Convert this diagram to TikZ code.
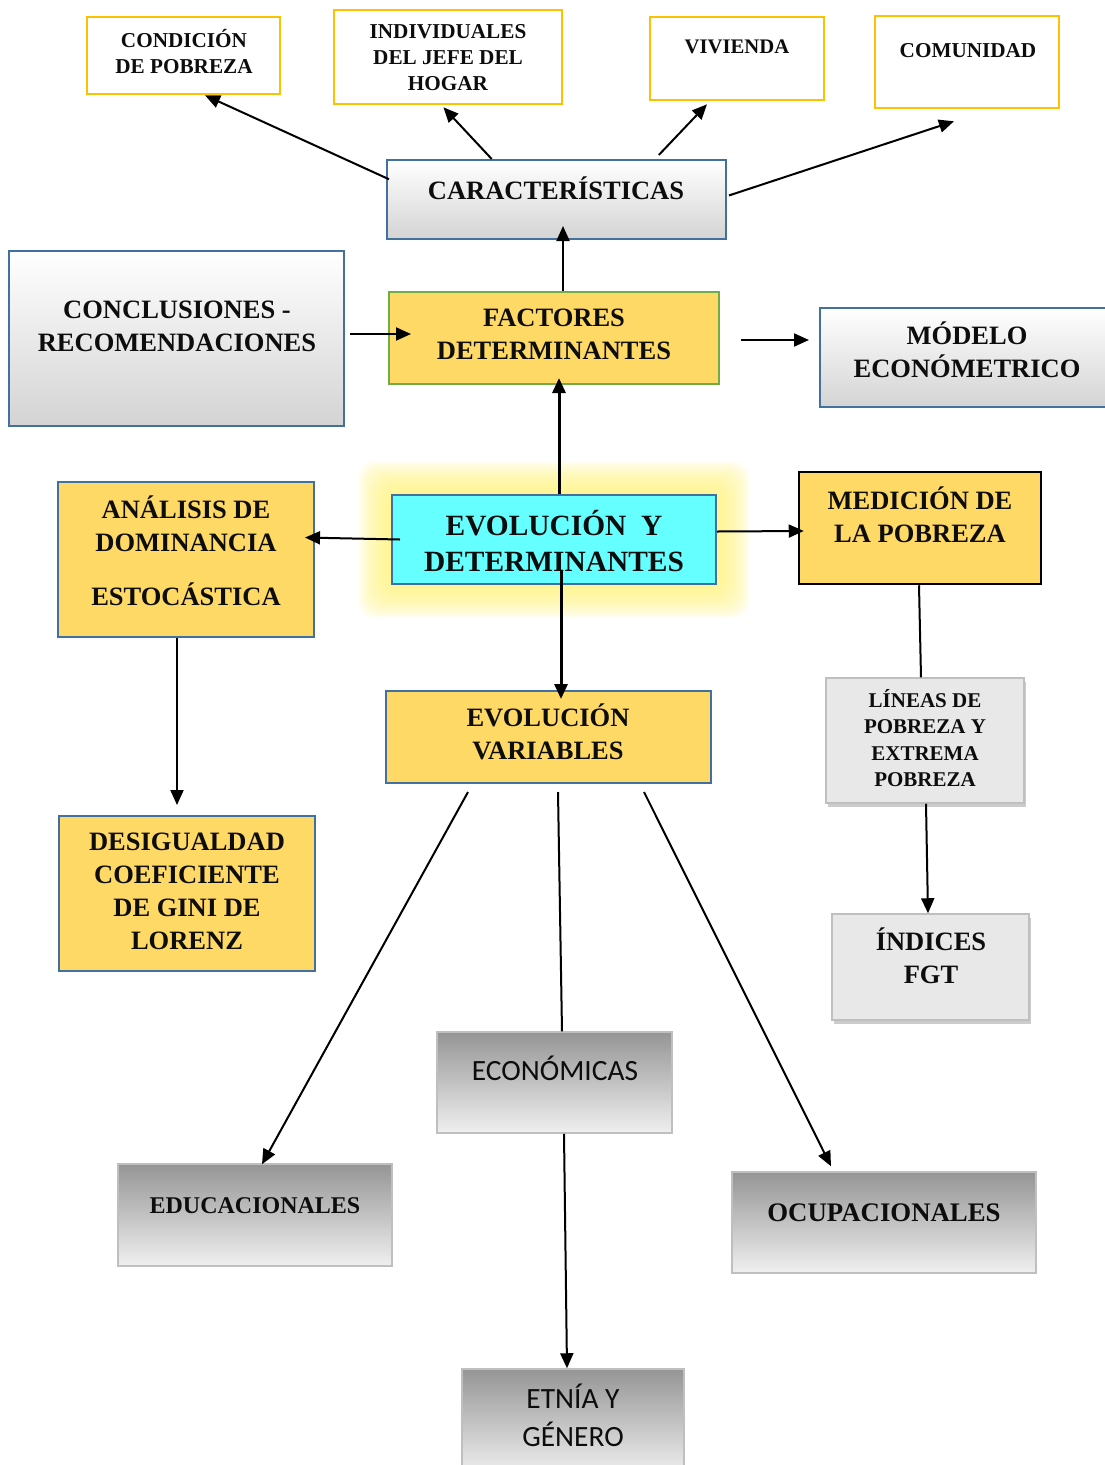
\documentclass[tikz,border=0pt]{standalone}
\usepackage{fontspec}
\setmainfont{Liberation Serif}
\newfontfamily\carlfont{Carlito}
\usetikzlibrary{arrows.meta,shadows,calc}
\definecolor{ybord}{HTML}{FFC000}
\definecolor{bbord}{HTML}{41719C}
\definecolor{gold}{HTML}{FFD966}
\definecolor{gbord}{HTML}{70AD47}
\definecolor{cyanf}{HTML}{66FFFF}
\definecolor{lgray}{HTML}{E8E8E8}
\definecolor{gbox}{HTML}{BFBFBF}
\definecolor{dgray}{HTML}{959595}
\definecolor{glow}{HTML}{FFF27A}
\tikzset{
  box/.style={rectangle, inner sep=0pt},
  ybox/.style={box, draw=ybord, line width=2.6pt, fill=white},
  wbox/.style={box, draw=bbord, line width=2pt, top color=white, middle color=white, bottom color=black!17},
  goldbox/.style={box, draw=bbord, line width=2pt, fill=gold},
  graybox/.style={box, draw=gbox, line width=1.5pt, fill=lgray, drop shadow={shadow xshift=2pt, shadow yshift=-4pt, opacity=0.4}},
  dbox/.style={box, draw=gbox, line width=1.5pt, top color=dgray, bottom color=black!6},
  txt/.style={align=center, inner sep=0pt, text=black!95},
  bf20/.style={txt, font=\bfseries\fontsize{21.2}{26}\selectfont},
  bf25/.style={txt, font=\bfseries\fontsize{26.5}{33}\selectfont},
  sans26/.style={txt, font=\carlfont\fontsize{29.4}{38}\selectfont},
  arr/.style={line width=2pt, -{Triangle[length=15pt,width=13pt]}},
  thickarr/.style={line width=3pt, -{Triangle[length=15pt,width=13pt]}},
  plain/.style={line width=2pt},
}
\begin{document}
\begin{tikzpicture}[x=1pt,y=-1pt]
\useasboundingbox (0,0) rectangle (1104,1465);
% glow behind central box
\foreach \i in {0,...,13}{
  \pgfmathsetmacro{\o}{34-2.5*\i}
  \fill[glow, opacity=0.11, rounded corners=18pt] (392-\o,495-\o) rectangle (716+\o,584+\o);
}
% boxes
\node[ybox, minimum width=193, minimum height=77] (cond) at (183.5,55.5) {};
\node[ybox, minimum width=228, minimum height=94] (indiv) at (448,57) {};
\node[ybox, minimum width=174, minimum height=83] (viv) at (737,58.5) {};
\node[ybox, minimum width=184, minimum height=92] (com) at (967,62) {};
\node[wbox, minimum width=339, minimum height=79] (car) at (556.5,199.5) {};
\node[wbox, minimum width=335, minimum height=175] (concl) at (176.5,338.5) {};
\node[box, draw=gbord, line width=2pt, fill=gold, minimum width=330, minimum height=92] (fact) at (554,338) {};
\node[wbox, minimum width=292, minimum height=99] (mod) at (966,357.5) {};
\node[box, draw=bbord, line width=2pt, fill=cyanf, minimum width=324, minimum height=89] (evo) at (554,539.5) {};
\node[goldbox, minimum width=256, minimum height=155] (anal) at (186,559.5) {};
\node[box, draw=black, line width=2.5pt, fill=gold, minimum width=242, minimum height=112] (med) at (920,528) {};
\node[goldbox, minimum width=325, minimum height=92] (evv) at (548.5,737) {};
\node[goldbox, minimum width=256, minimum height=155] (desig) at (187,893.5) {};
\node[graybox, minimum width=198, minimum height=125] (lin) at (925,740.5) {};
\node[graybox, minimum width=197, minimum height=106] (ind) at (930.5,967) {};
\node[dbox, minimum width=235, minimum height=101] (eco) at (554.5,1082.5) {};
\node[dbox, minimum width=274, minimum height=102] (edu) at (255,1215) {};
\node[dbox, minimum width=304, minimum height=101] (ocu) at (884,1222.5) {};
\node[dbox, minimum width=222, minimum height=106] (etn) at (573,1422) {};
% texts
\node[bf20] (tcond) at (184,52) {CONDICIÓN\\DE POBREZA};
\node[bf20] (tindiv) at (448,58) {INDIVIDUALES\\DEL JEFE DEL\\HOGAR};
\node[txt, font=\bfseries\fontsize{20.7}{26}\selectfont] (tviv) at (737,47) {VIVIENDA};
\node[bf20] (tcom) at (968,51) {COMUNIDAD};
\node[bf25] (tcar) at (556,188) {CARACTERÍSTICAS};
\node[bf25] (tconcl) at (177,326) {CONCLUSIONES -\\RECOMENDACIONES};
\node[bf25] (tfact) at (554,334) {FACTORES\\DETERMINANTES};
\node[bf25] (tmod) at (967,350) {MÓDELO\\ECONÓMETRICO};
\node[txt, font=\bfseries\fontsize{29.4}{36}\selectfont] (tevo) at (554,541) {EVOLUCIÓN\ \ Y\\DETERMINANTES};
\node[bf25] (tanal) at (186,551) {ANÁLISIS DE\\DOMINANCIA\\[21pt]ESTOCÁSTICA};
\node[bf25] (tmed) at (920,515) {MEDICIÓN DE\\LA POBREZA};
\node[bf25] (tevv) at (548,732) {EVOLUCIÓN\\VARIABLES};
\node[bf25] (tdesig) at (187,891) {DESIGUALDAD\\COEFICIENTE\\DE GINI DE\\LORENZ};
\node[txt, font=\bfseries\fontsize{21}{26.5}\selectfont] (tlin) at (925,738) {LÍNEAS DE\\POBREZA Y\\EXTREMA\\POBREZA};
\node[bf25] (tind) at (931,956) {ÍNDICES\\FGT};
\node[sans26] (teco) at (555,1068) {ECONÓMICAS};
\node[txt, font=\bfseries\fontsize{24}{28}\selectfont] (tedu) at (255,1206) {EDUCACIONALES};
\node[txt, font=\bfseries\fontsize{26.8}{30}\selectfont] (tocu) at (884,1213) {OCUPACIONALES};
\node[sans26] (tetn) at (573,1415) {ETNÍA Y\\GÉNERO};
% connectors
\coordinate (comarr) at ($(com.south west)!0.43!(com.south east)+(0,12)$);
\draw[arr] ($(car.north west)!0.25!(car.south west)+(3,0)$) -- ($(cond.south west)!0.61!(cond.south east)$);
\draw[arr] ($(car.north west)!0.31!(car.north east)$) -- ($(indiv.south west)!0.48!(indiv.south east)+(0,2)$);
\draw[arr] ($(car.north west)!0.80!(car.north east)+(0,-4)$) -- ($(viv.south west)!0.33!(viv.south east)+(0,3)$);
\draw[arr] ($(car.north east)!0.45!(car.south east)+(2,0)$) -- (comarr);
\draw[arr] ($(fact.north)+(9,0)$) -- ($(car.south)+(6.5,-14)$);
\draw[arr] ($(concl.east)+(5,-4.5)$) -- ($(fact.west)+(23,-4)$);
\draw[arr] ($(fact.east)+(21,2)$) -- ($(mod.west)+(-10,-17.5)$);
\draw[thickarr] ($(evo.north)+(5,0)$) -- ($(fact.south)+(5,-7)$);
\draw[arr] ($(evo.west)+(9,0)$) -- ($(anal.east)+(-10,-22)$);
\draw[arr] ($(evo.east)+(0,-8)$) -- ($(med.west)+(6,3)$);
\draw[thickarr] ($(evo.center)+(7,30)$) -- ($(evv.north)+(12.5,9)$);
\draw[arr] ($(anal.south)+(-9,0)$) -- ($(desig.north)+(-10,-10)$);
\draw[plain] ($(med.south)+(-1,0)$) -- ($(lin.north)+(-4,0)$);
\draw[arr] ($(lin.south)+(1,0)$) -- ($(ind.north)+(-2.5,0)$);
\draw[arr] ($(evv.south)+(-80.5,8)$) -- ($(edu.north)+(7,1)$);
\draw[plain] ($(evv.south)+(9.5,8)$) -- ($(eco.north)+(7.5,0)$);
\draw[arr] ($(evv.south)+(95.5,8)$) -- ($(ocu.north)+(-53,-5)$);
\draw[arr] ($(eco.south)+(9.5,0)$) -- ($(etn.north)+(-6,0)$);
\end{tikzpicture}
\end{document}
